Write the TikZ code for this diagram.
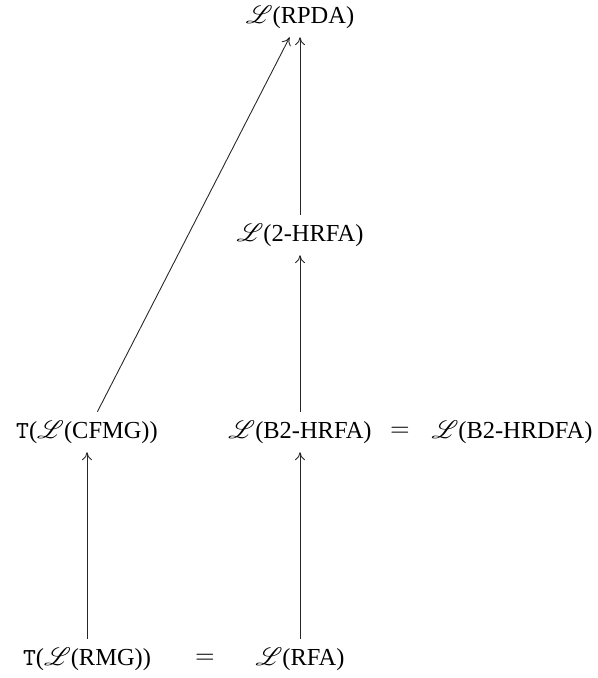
\documentclass[tikz,border=0pt]{standalone}
\usepackage{fontspec}
\setmainfont{Liberation Serif}
\usepackage{mathrsfs}
\usepackage{tikz}
\usetikzlibrary{positioning,arrows.meta}
\newcommand{\lang}[1]{$\mathscr{L}$(#1)}
\newcommand{\tr}[1]{\texttt{T}(#1)}

\begin{document}
\begin{tikzpicture}[
  x=0.01394cm,y=-0.01394cm,
  font=\fontsize{9.7pt}{12pt}\selectfont,
  lang/.style={inner sep=3.3pt},
  eqs/.style={inner sep=2pt},
  arr/.style={-{To[length=1.1mm,width=1.4mm]},line width=0.35pt,color=black!85}]
  \useasboundingbox (0,0) rectangle (598,678);
  % top rows
  \node[lang] (rpda) at (300,17) {\lang{RPDA}};
  \node[lang] (hrfa) at (300,235) {\lang{2-HRFA}};
  % middle row
  \node[lang] (cfmg) at (87,432) {\tr{\lang{CFMG}}};
  \node[lang] (bhrfa) at (300,432) {\lang{B2-HRFA}};
  \node[eqs] (eqmid) at (400,432) {$=$};
  \node[lang] (bhrdfa) at (512,432) {\lang{B2-HRDFA}};
  % bottom row
  \node[lang] (rmg) at (87,659) {\tr{\lang{RMG}}};
  \node[eqs] (eqbot) at (205,659) {$=$};
  \node[lang] (rfa) at (300,659) {\lang{RFA}};
  \draw[arr] (rmg) -- (cfmg); \draw[arr] (rfa) -- (bhrfa);
  \draw[arr] (bhrfa) -- (hrfa); \draw[arr] (hrfa) -- (rpda);
  \draw[arr] (cfmg) -- (rpda);
\end{tikzpicture}
\end{document}
